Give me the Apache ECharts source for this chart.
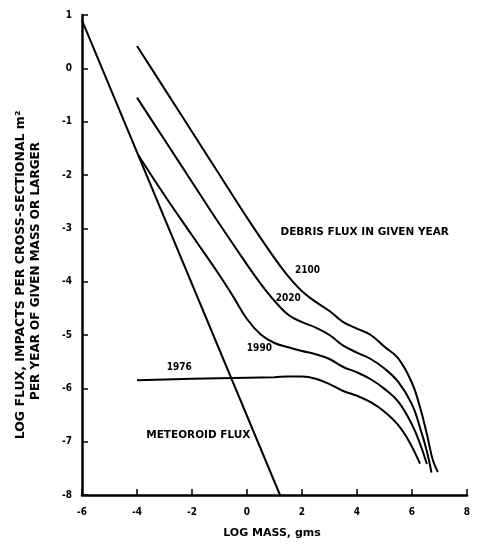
<!DOCTYPE html>
<html><head><meta charset="utf-8">
<script src="https://cdn.jsdelivr.net/npm/echarts@6/dist/echarts.min.js"></script>
<style>html,body{margin:0;padding:0;background:#fff}#c{width:477px;height:546px}</style>
</head><body><div id="c"></div>
<script>
const xTicks = [-6, -4, -2, 0, 2, 4, 6, 8];
const yTicks = [1, 0, -1, -2, -3, -4, -5, -6, -7, -8];

const meteoroidX = [-6, 1.2];
const meteoroidY = [0.9, -8];

const y1976X = [-4, -2, 0, 1, 1.5, 2, 2.5, 3, 3.5, 4, 4.5, 5, 5.5, 5.9, 6.29];
const y1976Y = [-5.85, -5.82, -5.8, -5.79, -5.78, -5.78, -5.82, -5.92, -6.05, -6.14, -6.26, -6.44, -6.69, -7.0, -7.41];

const y1990X = [-3.95, -3, -2, -1, -0.5, 0, 0.5, 1, 1.5, 2, 2.5, 3, 3.5, 4, 4.5, 5, 5.5, 6, 6.3, 6.54];
const y1990Y = [-1.63, -2.38, -3.13, -3.88, -4.28, -4.7, -4.99, -5.15, -5.23, -5.3, -5.36, -5.45, -5.6, -5.7, -5.83, -6.01, -6.25, -6.68, -7.05, -7.42];

const y2020X = [-4, -3, -2, -1, 0, 0.5, 1, 1.5, 2, 2.5, 3, 3.5, 4, 4.5, 5, 5.5, 6, 6.3, 6.53, 6.71];
const y2020Y = [-0.55, -1.34, -2.13, -2.92, -3.68, -4.04, -4.36, -4.62, -4.76, -4.86, -5.0, -5.2, -5.33, -5.45, -5.63, -5.88, -6.3, -6.75, -7.16, -7.58];

const y2100X = [-4, -3, -2, -1, 0, 1, 1.5, 2, 2.5, 3, 3.5, 4, 4.5, 5, 5.5, 6, 6.3, 6.55, 6.76, 6.94];
const y2100Y = [0.42, -0.385, -1.19, -1.995, -2.8, -3.56, -3.9, -4.18, -4.38, -4.55, -4.76, -4.88, -5.0, -5.22, -5.44, -5.9, -6.37, -6.88, -7.35, -7.57];

const annotations = [
  {text: '2100', x: 2.2, y: -3.78},
  {text: '2020', x: 1.5, y: -4.31},
  {text: '1990', x: 0.45, y: -5.25},
  {text: '1976', x: -2.46, y: -5.6},
  {text: 'METEOROID FLUX', x: -1.77, y: -6.88},
  {text: 'DEBRIS FLUX IN GIVEN YEAR', x: 4.28, y: -3.07}
];
const yTitle1 = 'LOG FLUX, IMPACTS PER CROSS-SECTIONAL m\u00B2';
const yTitle2 = 'PER YEAR OF GIVEN MASS OR LARGER';
const xTitle = 'LOG MASS, gms';

const FONT = "'DejaVu Sans Condensed', 'DejaVu Sans', sans-serif";
const WIDE = "'DejaVu Sans', sans-serif";
const zip = (xs, ys) => xs.map((v, i) => [v, ys[i]]);

const chart = echarts.init(document.getElementById('c'), null, {renderer: 'canvas'});
const lineStyle = {color: '#000', width: 2};
function ser(xs, ys, smooth) {
  return {type: 'line', data: zip(xs, ys), showSymbol: false, symbol: 'none',
    smooth: smooth ? 0.4 : false, lineStyle: lineStyle, silent: true};
}
chart.setOption({
  animation: false,
  backgroundColor: '#fff',
  grid: {left: 82, right: 10, top: 15, bottom: 51},
  xAxis: {
    type: 'value', min: -6, max: 8, interval: 2,
    axisLine: {show: true, onZero: false, lineStyle: {color: '#000', width: 2.5}},
    axisTick: {show: true, inside: true, length: 6, lineStyle: {color: '#000', width: 1.5}},
    axisLabel: {color: '#000', fontFamily: FONT, fontWeight: 'bold', fontSize: 10, margin: 12,
      formatter: v => xTicks.includes(v) ? String(v) : ''},
    splitLine: {show: false}
  },
  yAxis: {
    type: 'value', min: -8, max: 1, interval: 1,
    axisLine: {show: true, onZero: false, lineStyle: {color: '#000', width: 2.5}},
    axisTick: {show: true, inside: true, length: 6, lineStyle: {color: '#000', width: 1.5}},
    axisLabel: {color: '#000', fontFamily: FONT, fontWeight: 'bold', fontSize: 10, margin: 10,
      formatter: v => yTicks.includes(v) ? String(v) : ''},
    splitLine: {show: false}
  },
  series: [
    ser(meteoroidX, meteoroidY, false),
    ser(y1976X, y1976Y, true),
    ser(y1990X, y1990Y, true),
    ser(y2020X, y2020Y, true),
    ser(y2100X, y2100Y, true)
  ]
});

const textStyle = {fill: '#000', font: "bold 10px " + FONT, textAlign: 'center', textVerticalAlign: 'middle'};
const graphics = annotations.map(a => {
  const p = chart.convertToPixel({gridIndex: 0}, [a.x, a.y]);
  const f = a.text.length > 10 ? "bold 10.5px " + WIDE : "bold 10px " + FONT;
  return {type: 'text', x: p[0], y: p[1], style: Object.assign({}, textStyle, {text: a.text, font: f})};
});
graphics.push({type: 'text', x: 21, y: 275, rotation: Math.PI / 2,
  style: Object.assign({}, textStyle, {text: yTitle1, font: "bold 12.5px " + WIDE})});
graphics.push({type: 'text', x: 36, y: 271, rotation: Math.PI / 2,
  style: Object.assign({}, textStyle, {text: yTitle2, font: "bold 12px " + WIDE})});
graphics.push({type: 'text', x: 272, y: 533,
  style: Object.assign({}, textStyle, {text: xTitle, font: "bold 11px " + WIDE})});
chart.setOption({graphic: graphics});
</script>
</body></html>
